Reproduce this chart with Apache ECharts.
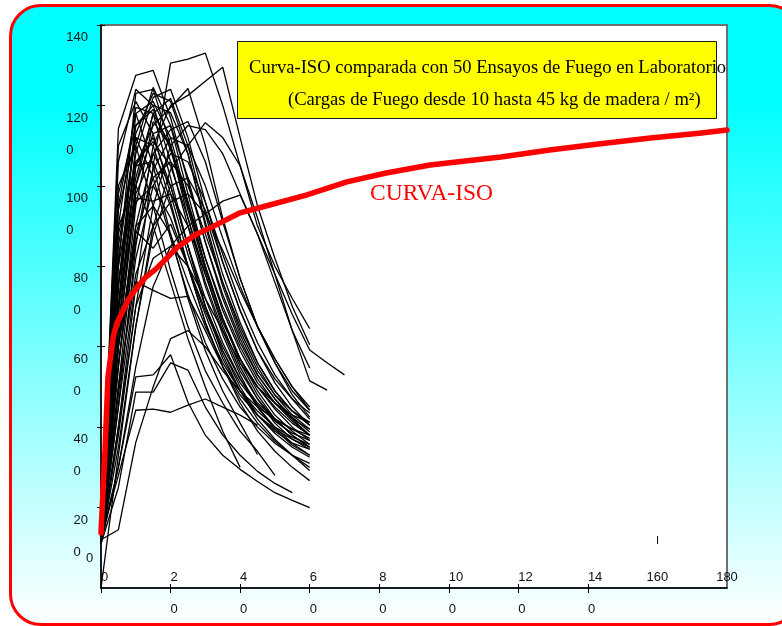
<!DOCTYPE html>
<html>
<head>
<meta charset="utf-8">
<script src="https://cdn.jsdelivr.net/npm/echarts@6/dist/echarts.min.js"></script>
<style>
html, body { margin: 0; padding: 0; width: 782px; height: 626px; overflow: hidden; background: #fff; }
.marco {
    position: absolute; left: 9px; top: 4px; width: 792px; height: 622px;
    box-sizing: border-box; border: 3px solid #ff0000; border-radius: 32px;
    background: linear-gradient(to bottom, #00ffff 0%, #00ffff 15%, #ffffff 100%);
}
#chart { position: absolute; left: 0; top: 0; width: 782px; height: 626px; }
</style>
</head>
<body>
<div class="marco"></div>
<div id="chart"></div>
<script>
// minutos de cada lectura de los ensayos
var minutos = [0, 5, 10, 15, 20, 25, 30, 35, 40, 45, 50, 55, 60, 65, 70];

// 46 ensayos (temperatura en grados C)
var ensayos = [
    [120, 1142, 1275, 1287, 1170, 1010, 860, 730, 620, 530, 470, 420, 380],
    [110, 400, 750, 1050, 1305, 1315, 1330, 1200, 1050, 900, 800, 720, 645],
    [115, 450, 850, 1100, 1200, 1225, 1260, 1295, 1120, 950, 820, 700, 605],
    [110, 380, 700, 950, 1100, 1150, 1140, 1080, 980, 880, 780, 680, 592, 560, 530],
    [110, 350, 650, 900, 1040, 1100, 1157, 1120, 1050, 920, 780, 640, 515, 492],
    [110, 300, 550, 750, 850, 900, 930, 962, 977, 880, 760, 640, 547],
    [120, 800, 1230, 1240, 1100, 920, 760, 640, 540, 470, 420, 380, 350],
    [115, 700, 1100, 1245, 1150, 980, 820, 690, 590, 510, 460, 420, 395],
    [125, 900, 1195, 1180, 1020, 850, 700, 590, 500, 430, 385, 350, 325],
    [110, 600, 1000, 1180, 1217, 1100, 930, 780, 660, 560, 490, 440, 405],
    [120, 650, 1050, 1150, 1195, 1242, 1100, 920, 770, 650, 560, 490, 442],
    [115, 750, 1150, 1200, 1182, 1080, 900, 750, 630, 540, 480, 440, 412],
    [110, 850, 1120, 1100, 960, 800, 660, 550, 470, 410, 365, 330, 300],
    [120, 950, 1180, 1050, 880, 720, 590, 490, 410, 332],
    [125, 1000, 1100, 950, 790, 650, 540, 460, 390, 340, 280],
    [115, 700, 1000, 1130, 1150, 1020, 860, 720, 610, 530, 470, 425, 388],
    [110, 550, 950, 1160, 1100, 950, 800, 670, 570, 490, 430, 390, 357],
    [120, 800, 1050, 1060, 950, 800, 660, 550, 460, 390, 340, 300, 267],
    [130, 900, 1000, 900, 760, 620, 500, 390, 300],
    [115, 650, 980, 1080, 1000, 850, 700, 580, 490, 420, 370, 330, 292],
    [120, 300, 525, 530, 580, 462, 380, 330, 295, 265, 237, 218, 200],
    [110, 250, 487, 487, 560, 542, 450, 380, 330, 290, 260, 237],
    [125, 280, 442, 445, 437, 455, 470, 450, 430, 405],
    [120, 145, 362, 500, 620, 640, 600, 540, 490, 450, 420, 395, 372],
    [115, 500, 887, 845, 905, 800, 680, 570, 490, 430, 390, 360, 345],
    [120, 450, 762, 740, 720, 725, 640, 550, 480, 430, 395, 370, 350],
    [110, 600, 900, 950, 880, 760, 650, 560, 490, 440, 400, 375, 357],
    [125, 700, 960, 1000, 920, 800, 690, 590, 510, 455, 415, 385, 367],
    [115, 400, 700, 820, 850, 800, 720, 640, 560, 500, 460, 430, 412],
    [120, 1100, 1210, 1130, 980, 830, 700, 600, 520, 460, 420, 395, 380],
    [110, 750, 1080, 1220, 1240, 1120, 960, 810, 690, 590, 520, 470, 435],
    [115, 550, 900, 1080, 1140, 1160, 1060, 910, 770, 650, 560, 480, 425],
    [120, 980, 1150, 1190, 1090, 940, 790, 670, 570, 500, 450, 410, 380],
    [125, 620, 970, 962, 980, 900, 780, 660, 570, 500, 445, 400, 367],
    [110, 820, 1130, 1230, 1210, 1080, 910, 760, 640, 550, 480, 430, 395],
    [0, 330, 650, 880, 1000, 1020, 940, 810, 690, 590, 510, 450, 405],
    [120, 700, 1180, 1210, 1120, 960, 800, 670, 560, 480, 420, 380, 350],
    [115, 880, 1060, 1110, 1050, 920, 780, 650, 550, 470, 410, 370, 345],
    [130, 1060, 1240, 1200, 1060, 900, 750, 630, 530, 450, 395, 355, 330],
    [110, 480, 820, 1000, 1080, 1060, 960, 830, 710, 610, 530, 470, 420],
    [120, 600, 880, 1020, 1060, 1000, 880, 760, 650, 560, 490, 440, 405],
    [115, 760, 1020, 1180, 1100, 960, 820, 700, 600, 520, 460, 415, 380],
    [125, 500, 780, 900, 960, 980, 930, 840, 740, 650, 570, 500, 442],
    [120, 940, 1120, 1020, 870, 730, 610, 520, 450, 400, 360, 330, 310],
    [115, 680, 1050, 1120, 1000, 850, 720, 610, 520, 450, 400, 360, 330],
    [110, 560, 860, 1040, 1120, 1100, 1000, 870, 750, 650, 570, 500, 450]
];

// curva ISO
var isoMinutos = [0, 1.2, 2, 2.9, 3.5, 4.6, 6, 7.8, 9.8, 12.6, 15.5, 19, 22, 27, 32, 40, 46.6, 59, 70.7, 82, 94.6, 115, 129, 143, 158, 172, 180];
var isoValores = [137, 351, 525, 584, 624, 659, 684, 716, 741, 771, 791, 821, 848, 878, 898, 933, 948, 977, 1010, 1032, 1052, 1072, 1089, 1104, 1119, 1131, 1139];

// marcas de los ejes
var yEtiquetas = [200, 400, 600, 800, 1000, 1200, 1400];
var yCero = [0];
var xEtiquetas = [0, 20, 40, 60, 80, 100, 120, 140];
var xEtiquetasFin = [160, 180];
var xMarcasDentro = [20, 40, 60, 80, 100, 120, 140];

var tituloLineas = [
    'Curva-ISO comparada con 50 Ensayos de Fuego en Laboratorio',
    '(Cargas de Fuego desde 10 hasta 45 kg de madera / m\u00b2)'
];
var rotuloIso = 'CURVA-ISO';

var fuenteEje = 'Liberation Sans';
var fuenteTexto = '"Liberation Serif", "Times New Roman", serif';

function partir(v) {
    var s = String(v);
    return { cabeza: s.slice(0, -1), cola: s.slice(-1) };
}

var series = ensayos.map(function (vals, i) {
    return {
        name: 'Ensayo ' + (i + 1),
        type: 'line',
        data: vals.map(function (v, j) { return [minutos[j], v]; }),
        symbol: 'none',
        silent: true,
        z: 2,
        lineStyle: { color: '#000', width: 1.3 }
    };
});

series.push({
    name: 'Curva-ISO',
    type: 'line',
    data: isoValores.map(function (v, j) { return [isoMinutos[j], v]; }),
    symbol: 'none',
    silent: true,
    z: 5,
    lineStyle: { color: '#ff0000', width: 5.5, join: 'round', cap: 'round' }
});

var myChart = echarts.init(document.getElementById('chart'));
var option = {
    animation: false,
    grid: {
        left: 101, top: 25, right: 55, bottom: 38,
        containLabel: false,
        outerBoundsMode: 'none',
        show: true, backgroundColor: '#fff', borderColor: '#6e6e6e', borderWidth: 2
    },
    xAxis: [
        {
            type: 'value', min: 0, max: 180, interval: 20, position: 'bottom',
            axisLine: { show: true, lineStyle: { color: '#000', width: 1.5 } },
            axisTick: { show: true, length: 5, customValues: xEtiquetas, lineStyle: { color: '#000' } },
            splitLine: { show: false },
            axisLabel: {
                customValues: xEtiquetas,
                align: 'left', verticalAlign: 'middle', margin: 0,
                formatter: function (v) {
                    if (v === 0) return '{a|0}\n{b| }';
                    var p = partir(v);
                    return '{a|' + p.cabeza + '}\n{b|' + p.cola + '}';
                },
                rich: {
                    a: { fontSize: 13, fontFamily: fuenteEje, color: '#111', lineHeight: 42 },
                    b: { fontSize: 13, fontFamily: fuenteEje, color: '#111', lineHeight: 22, align: 'left' }
                }
            }
        },
        {
            type: 'value', min: 0, max: 180, interval: 20, position: 'bottom',
            axisLine: { show: false },
            axisTick: { show: true, inside: true, length: 4, customValues: xMarcasDentro, lineStyle: { color: '#000' } },
            splitLine: { show: false },
            axisLabel: {
                customValues: xEtiquetasFin,
                align: 'center', verticalAlign: 'middle', margin: 0,
                formatter: function (v) {
                    if (v === 160) return '{t|I}\n{a|160}\n{b| }\n{s| }';
                    return '{a|' + v + '}\n{b| }';
                },
                rich: {
                    t: { fontSize: 11, fontFamily: fuenteEje, color: '#111', lineHeight: 30 },
                    a: { fontSize: 13, fontFamily: fuenteEje, color: '#111', lineHeight: 42 },
                    b: { fontSize: 13, fontFamily: fuenteEje, color: '#111', lineHeight: 22 },
                    s: { fontSize: 11, fontFamily: fuenteEje, color: '#111', lineHeight: 30 }
                }
            }
        }
    ],
    yAxis: [
        {
            type: 'value', min: 0, max: 1400, interval: 200, position: 'left',
            axisLine: { show: true, lineStyle: { color: '#000', width: 1.5 } },
            axisTick: { show: true, length: 4, customValues: yEtiquetas, lineStyle: { color: '#000' } },
            splitLine: { show: false },
            axisLabel: {
                customValues: yEtiquetas,
                align: 'right', verticalAlign: 'top', margin: 13,
                formatter: function (v) {
                    var p = partir(v);
                    return '{a|' + p.cabeza + '}\n{b|' + p.cola + '}';
                },
                rich: {
                    a: { fontSize: 13, fontFamily: fuenteEje, color: '#111', lineHeight: 25, align: 'right' },
                    b: { fontSize: 13, fontFamily: fuenteEje, color: '#111', lineHeight: 39, align: 'left' }
                }
            }
        },
        {
            type: 'value', min: 0, max: 1400, interval: 200, position: 'left',
            axisLine: { show: false },
            axisTick: { show: true, inside: true, length: 4, customValues: yEtiquetas, lineStyle: { color: '#000' } },
            splitLine: { show: false },
            axisLabel: {
                customValues: yCero,
                align: 'left', verticalAlign: 'bottom', margin: 15,
                fontSize: 13, fontFamily: fuenteEje, color: '#111', lineHeight: 60
            }
        }
    ],
    graphic: [
        {
            type: 'rect', left: 237, top: 41, z: 100,
            shape: { width: 479, height: 77 },
            style: { fill: '#ffff00', stroke: '#1a1a1a', lineWidth: 1 }
        },
        {
            type: 'text', left: 249, top: 59, z: 101,
            style: { text: tituloLineas[0], font: '18.6px ' + fuenteTexto, fill: '#000' }
        },
        {
            type: 'text', left: 288, top: 91, z: 101,
            style: { text: tituloLineas[1], font: '18.6px ' + fuenteTexto, fill: '#000' }
        },
        {
            type: 'text', left: 370, top: 182, z: 101,
            style: { text: rotuloIso, font: '23.5px ' + fuenteTexto, fill: '#ff0000' }
        }
    ],
    series: series
};
myChart.setOption(option);
window.addEventListener('resize', function () {
    myChart.resize();
});
</script>
</body>
</html>
